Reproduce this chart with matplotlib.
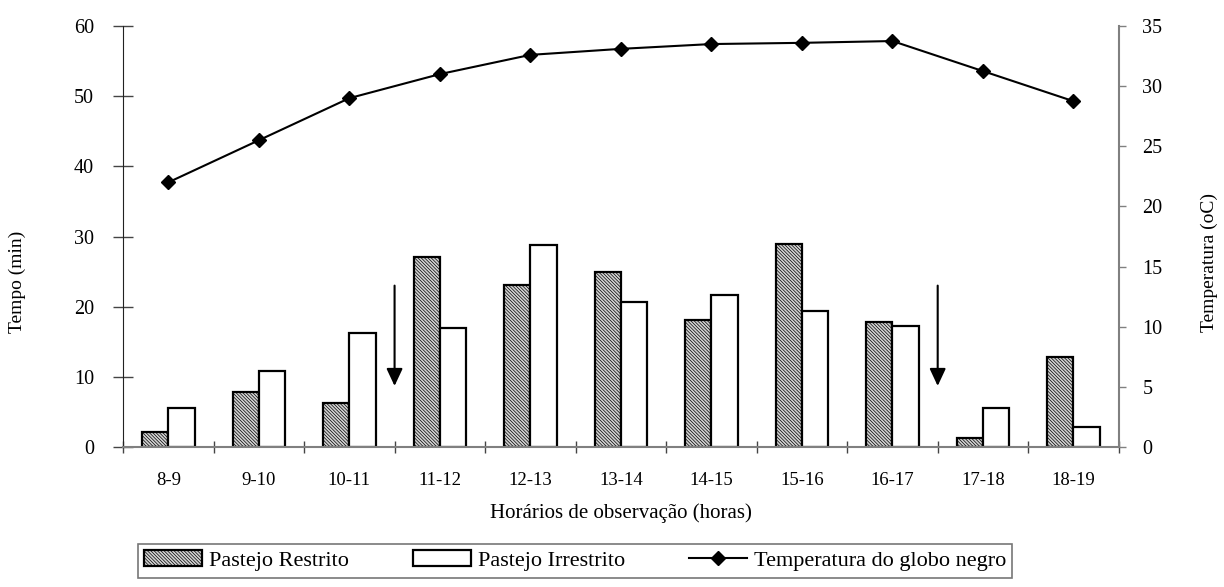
import matplotlib
matplotlib.use("Agg")
import matplotlib.pyplot as plt
import numpy as np

categories = ["8-9", "9-10", "10-11", "11-12", "12-13", "13-14", "14-15",
              "15-16", "16-17", "17-18", "18-19"]
restrito = [2.2, 7.8, 6.3, 27.1, 23.1, 24.9, 18.1, 29.0, 17.8, 1.3, 12.8]
irrestrito = [5.6, 10.9, 16.2, 16.9, 28.8, 20.6, 21.6, 19.4, 17.2, 5.6, 2.8]
temperatura = [22.0, 25.5, 29.0, 31.0, 32.6, 33.1, 33.5, 33.6, 33.75, 31.25, 28.75]
arrow_x = [2.5, 8.5]

plt.rcParams['font.family'] = ['Liberation Serif', 'DejaVu Serif']
plt.rcParams['hatch.linewidth'] = 0.5
plt.rcParams['hatch.color'] = '#808080'

fig = plt.figure(figsize=(12.24, 5.87), dpi=100)
ax1 = fig.add_axes([0.1005, 0.2385, 0.8135, 0.7172])
ax2 = ax1.twinx()

x = np.arange(len(categories))
w = 0.29
ax1.bar(x - w/2, restrito, w, facecolor='#d4d4d4', edgecolor='black',
        linewidth=1.6, hatch='\\\\\\\\\\\\\\\\\\\\', label='Pastejo Restrito', zorder=2)
ax1.bar(x + w/2, irrestrito, w, facecolor='white', edgecolor='black',
        linewidth=1.6, label='Pastejo Irrestrito', zorder=2)

ax2.plot(x, temperatura, color='black', lw=1.5, marker='D', markersize=7,
         label='Temperatura do globo negro')

for ax_ in arrow_x:
    ax1.annotate('', xy=(ax_, 8.7), xytext=(ax_, 23.0),
                 arrowprops=dict(arrowstyle='-|>,head_length=0.75,head_width=0.35',
                                 color='black', lw=1.5, mutation_scale=14,
                                 shrinkA=0, shrinkB=0))

ax1.set_xlim(-0.5, len(categories) - 0.5)
ax1.set_ylim(0, 60)
ax2.set_ylim(0, 35)
ax1.set_yticks(np.arange(0, 61, 10))
ax2.set_yticks(np.arange(0, 36, 5))

ax1.set_xticks(np.arange(-0.5, len(categories), 1))
ax1.set_xticklabels([])
ax1.set_xticks(x, minor=True)
ax1.set_xticklabels(categories, minor=True)
ax1.tick_params(axis='x', which='major', direction='inout', length=9, width=1, color='#444444')
ax1.tick_params(axis='x', which='minor', length=0, pad=18, labelsize=13.5)
ax1.tick_params(axis='y', direction='inout', length=14, width=1, color='#444444', labelsize=14.5, pad=14)
ax2.tick_params(axis='y', direction='out', length=5, width=1, color='#808080', labelsize=14.5, pad=12)

for a in (ax1, ax2):
    a.spines['top'].set_visible(False)
ax1.spines['right'].set_visible(False)
ax2.spines['left'].set_visible(False)
ax2.spines['bottom'].set_visible(False)
ax2.spines['right'].set_color('#808080')
ax2.spines['right'].set_linewidth(1.5)
ax1.spines['left'].set_color('#222222')
ax1.spines['bottom'].set_color('#808080')
ax1.spines['bottom'].set_linewidth(1.5)

ax1.set_xlabel('Horários de observação (horas)', fontsize=15, labelpad=10)
fig.text(0.014, 0.52, 'Tempo (min)', rotation=90, fontsize=14, ha='center', va='center')
fig.text(0.988, 0.553, 'Temperatura (oC)', rotation=90, fontsize=14, ha='center', va='center')

h1, l1 = ax1.get_legend_handles_labels()
h2, l2 = ax2.get_legend_handles_labels()
leg = fig.legend(h1 + h2, l1 + l2, loc='center', bbox_to_anchor=(0.4698, 0.045),
                 ncol=3, frameon=True, fancybox=False, edgecolor='#555555',
                 fontsize=16, handlelength=2.6, handletextpad=0.3, columnspacing=2.9,
                 borderpad=0.3, borderaxespad=0)
leg.get_frame().set_linewidth(1.2)

fig.savefig('out.png', dpi=100)
